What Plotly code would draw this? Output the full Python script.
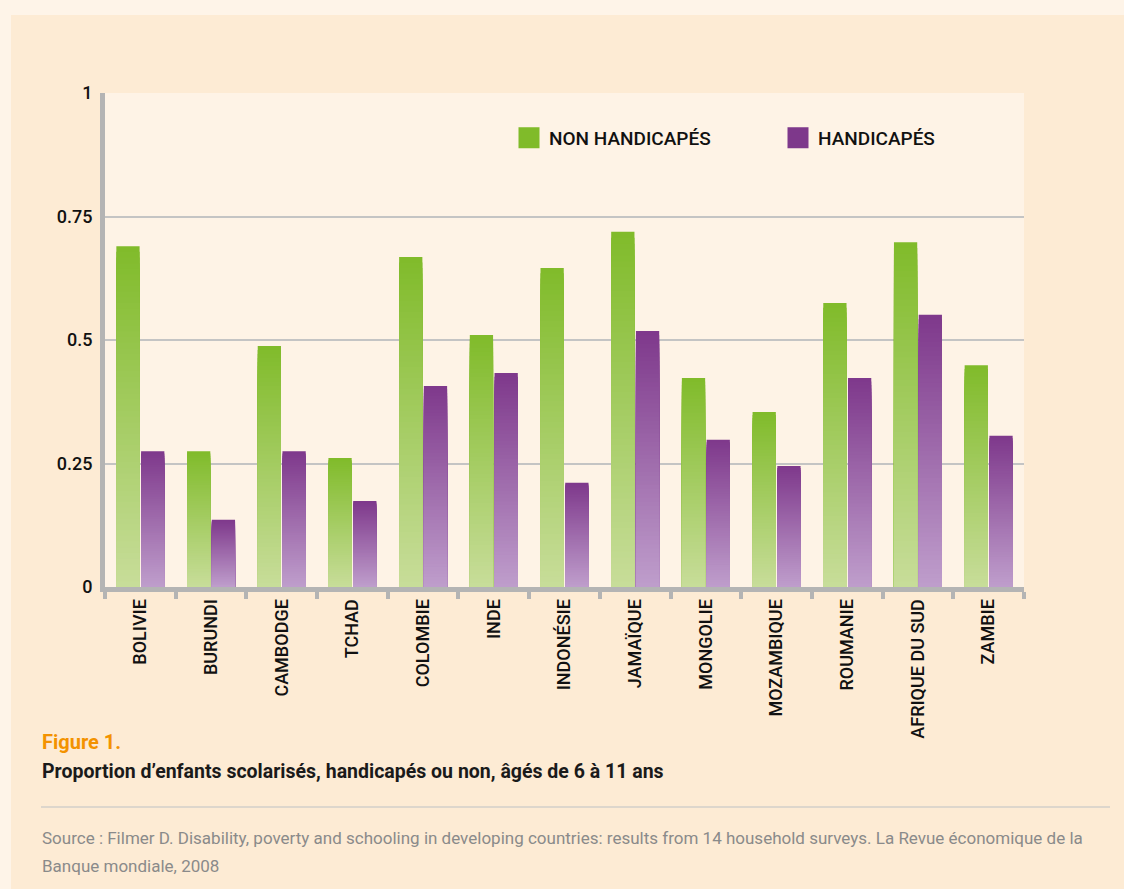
import plotly.graph_objects as go

# ---------------- data ----------------
countries = ["BOLIVIE", "BURUNDI", "CAMBODGE", "TCHAD", "COLOMBIE", "INDE", "INDONÉSIE",
             "JAMAÏQUE", "MONGOLIE", "MOZAMBIQUE", "ROUMANIE", "AFRIQUE DU SUD", "ZAMBIE"]
non_handicapes = [0.690, 0.275, 0.488, 0.261, 0.668, 0.510, 0.646,
                  0.719, 0.423, 0.354, 0.575, 0.698, 0.449]
handicapes = [0.275, 0.136, 0.275, 0.174, 0.407, 0.433, 0.211,
              0.518, 0.298, 0.245, 0.423, 0.551, 0.306]
y_tick_vals = [0, 0.25, 0.5, 0.75, 1]
y_tick_text = ["0", "0.25", "0.5", "0.75", "1"]
series_names = ["NON HANDICAPÉS", "HANDICAPÉS"]

# ---------------- style ----------------
W, H = 1124, 889
L, R, T, B = 105, 100, 93, 302
PW, PH = W - L - R, H - T - B
FONT = "Roboto, Arial, sans-serif"
PANEL = "#fdebd4"
OUTER = "#fef4e8"
PLOTBG = "#fef3e6"
AXIS = "#b4b4b4"

green_top, green_bot = (0x80, 0xbb, 0x2a), (0xc8, 0xdd, 0x9a)
purple_top, purple_bot = (0x7e, 0x38, 0x8b), (0xbf, 0x9e, 0xcc)
NSEG = 60


def px_x(x):
    return (x - L) / PW


def px_y(y):
    return (H - B - y) / PH


def mix(c0, c1, t):
    return "rgb(%d,%d,%d)" % tuple(round(a + (b - a) * t) for a, b in zip(c0, c1))


fig = go.Figure()

# vertical gradient: overlay progressively shorter, lighter bars from the baseline
for vals, top, bot, grp in [(non_handicapes, green_top, green_bot, "g"),
                            (handicapes, purple_top, purple_bot, "p")]:
    for i in range(NSEG):
        frac = 1 - i / NSEG
        fig.add_trace(go.Bar(
            x=countries,
            y=[v * frac for v in vals],
            offsetgroup=grp,
            marker=dict(color=mix(bot, top, frac - 0.5 / NSEG), line=dict(width=0)),
            showlegend=False,
            hoverinfo="skip",
        ))

# legend entries
for name, col in zip(series_names, ["#80bb2a", "#7e388b"]):
    fig.add_trace(go.Scatter(
        x=[None], y=[None], mode="markers", name=name,
        marker=dict(symbol="square", size=16, color=col, line=dict(color=col, width=5)),
    ))

fig.update_layout(
    width=W, height=H,
    margin=dict(l=L, r=R, t=T, b=B, pad=0, autoexpand=False),
    paper_bgcolor=PANEL,
    plot_bgcolor=PLOTBG,
    barmode="group",
    bargap=0.3,
    bargroupgap=0.06,
    font=dict(family=FONT, color="#111111", size=18),
    legend=dict(
        orientation="h", x=px_x(509), y=px_y(138), xanchor="left", yanchor="middle",
        bgcolor="rgba(0,0,0,0)", font=dict(family=FONT, size=19, color="#111111", weight=500),
        itemsizing="trace", entrywidth=224, traceorder="normal",
    ),
    xaxis=dict(
        showline=True, linecolor=AXIS, linewidth=5,
        ticks="outside", tickson="boundaries", ticklen=7, tickwidth=4, tickcolor=AXIS,
        tickangle=-90, tickfont=dict(family=FONT, size=18, color="#111111", weight=500),
        showgrid=False, fixedrange=True,
    ),
    yaxis=dict(
        range=[0, 1], tickvals=y_tick_vals, ticktext=y_tick_text,
        showline=True, linecolor=AXIS, linewidth=5,
        showgrid=True, gridcolor="#c4c4c4", gridwidth=2,
        zeroline=False, ticks="", ticklabelstandoff=4, fixedrange=True,
        tickfont=dict(family=FONT, size=18, color="#111111", weight=500),
    ),
    shapes=[
        dict(type="rect", xref="paper", yref="paper", x0=px_x(0), x1=px_x(W), y0=px_y(15), y1=px_y(0),
             fillcolor=OUTER, line=dict(width=0), layer="below"),
        dict(type="rect", xref="paper", yref="paper", x0=px_x(0), x1=px_x(11), y0=px_y(H), y1=px_y(0),
             fillcolor=OUTER, line=dict(width=0), layer="below"),
        dict(type="line", xref="paper", yref="paper", x0=px_x(41), x1=px_x(1110), y0=px_y(807), y1=px_y(807),
             line=dict(color="#ddd6cc", width=2)),
    ],
    annotations=[
        dict(text="<b>Figure 1.</b>", xref="paper", yref="paper", x=px_x(40), y=px_y(742),
             xanchor="left", yanchor="middle", showarrow=False,
             font=dict(family=FONT, size=20, color="#f39200")),
        dict(text="<b>Proportion d’enfants scolarisés, handicapés ou non, âgés de 6 à 11 ans</b>",
             xref="paper", yref="paper", x=px_x(40), y=px_y(771),
             xanchor="left", yanchor="middle", showarrow=False,
             font=dict(family=FONT, size=19.5, color="#1a1a1a")),
        dict(text="Source : Filmer D. Disability, poverty and schooling in developing countries: results from 14 household surveys. La Revue économique de la",
             xref="paper", yref="paper", x=px_x(40), y=px_y(838),
             xanchor="left", yanchor="middle", showarrow=False,
             font=dict(family=FONT, size=17, color="#8a8a8a")),
        dict(text="Banque mondiale, 2008",
             xref="paper", yref="paper", x=px_x(40), y=px_y(866),
             xanchor="left", yanchor="middle", showarrow=False,
             font=dict(family=FONT, size=17, color="#8a8a8a")),
    ],
)

fig.write_html(
    "out.html",
    config={"displayModeBar": False},
    post_script="document.body.style.margin='0';document.body.style.overflow='hidden';",
)
